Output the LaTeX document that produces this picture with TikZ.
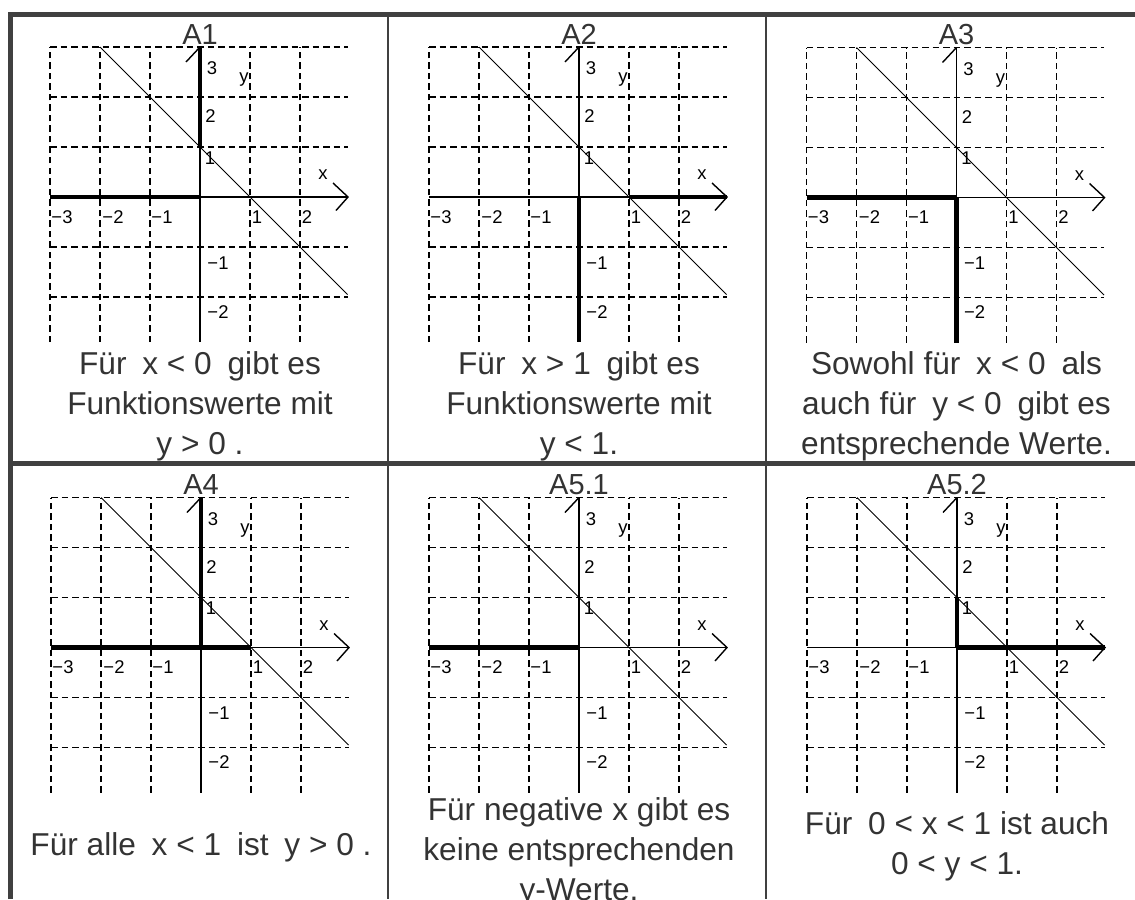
\documentclass[tikz,border=0pt]{standalone}
\usepackage{fontspec}
\setmainfont{Liberation Sans}
\usetikzlibrary{calc}

\definecolor{framegray}{HTML}{404040}
\definecolor{textgray}{HTML}{333333}

\tikzset{
    gridline/.style={line width=0.75pt,dash pattern=on 0.13cm off 0.08cm},
    axisline/.style={line width=0.8pt},
    graphline/.style={line width=0.55pt},
    marked/.style={line width=2.8pt},
    ticklabel/.style={inner sep=0pt,font=\fontsize{10.5}{12}\selectfont},
    paneltitle/.style={inner sep=0pt,text=textgray,font=\fontsize{16.5}{19}\selectfont},
    caption/.style={inner sep=0pt,align=center,text=textgray,font=\fontsize{18}{22.7}\selectfont},
    outerframe/.style={line width=2.8pt,draw=framegray},
    innerframe/.style={line width=1.1pt,draw=framegray}
}

\newcommand{\gap}{\hspace{0.5em}}

% #1 name, #2 origin, #3 title, #4 marked parts, #5 caption y, #6 caption
\newcommand{\koordsystem}[6]{%
    \begin{scope}[shift={#2}]
        % grid
        \foreach \gx in {-3,-2,-1,1,2}
            \draw[gridline] (\gx,-2.9) -- (\gx,3);
        \foreach \gy in {-2,-1,1,2,3}
            \draw[gridline] (-3,\gy) -- (2.95,\gy);

        % axes
        \coordinate (#1-o) at (0,0);
        \coordinate (#1-xl) at (-3,0);
        \coordinate (#1-xr) at (2.96,0);
        \coordinate (#1-yb) at (0,-2.9);
        \coordinate (#1-yt) at (0,3);
        \draw[axisline] (#1-xl) -- (#1-xr);
        \draw[axisline] (#1-yb) -- (#1-yt);
        \draw[axisline] (#1-xr) ++(-0.3,0.28) -- (#1-xr) -- ++(-0.24,-0.27);
        \draw[axisline] (#1-yt) ++(-0.28,-0.3) -- (#1-yt);

        % y = 1 - x
        \coordinate (#1-gs) at (-2,3);
        \coordinate (#1-ge) at (2.95,-1.95);
        \draw[graphline] (#1-gs) -- (#1-ge);

        % marked parts of the axes
        #4

        % axis labels
        \node (#1-x) at (2.46,0.44) [ticklabel] {x};
        \node (#1-y) at (0.88,2.34) [ticklabel] {y};
        \node (#1-y3) at (0.24,2.57) [ticklabel] {3};
        \node (#1-y2) at (0.21,1.61) [ticklabel] {2};
        \node (#1-y1) at (0.2,0.78) [ticklabel] {1};
        \node (#1-ym1) at (0.36,-1.32) [ticklabel] {−1};
        \node (#1-ym2) at (0.36,-2.3) [ticklabel] {−2};
        \node (#1-xm3) at (-2.76,-0.4) [ticklabel] {−3};
        \node (#1-xm2) at (-1.74,-0.4) [ticklabel] {−2};
        \node (#1-xm1) at (-0.76,-0.4) [ticklabel] {−1};
        \node (#1-x1) at (1.14,-0.4) [ticklabel] {1};
        \node (#1-x2) at (2.14,-0.4) [ticklabel] {2};

        % title and caption
        \node (#1-title) at (0,3.25) [paneltitle] {#3};
        \node (#1-caption) at (0,#5) [caption] {#6};
    \end{scope}}

\begin{document}
\begin{tikzpicture}
    \useasboundingbox (0,0) rectangle (22.7,-17.98);

    % 1. Table frame
    \coordinate (tl) at (0.216,-0.284);
    \coordinate (tr) at (22.7,-0.284);
    \coordinate (bl) at (0.216,-17.98);
    \coordinate (ml) at (0.216,-9.27);
    \coordinate (mr) at (22.7,-9.27);
    \coordinate (c1t) at (7.76,-0.284);
    \coordinate (c1b) at (7.76,-17.98);
    \coordinate (c2t) at (15.32,-0.284);
    \coordinate (c2b) at (15.32,-17.98);
    \draw[innerframe] (c1t) -- (c1b);
    \draw[innerframe] (c2t) -- (c2b);
    \draw[outerframe] (bl) -- (tl) -- (tr);
    \draw[outerframe,line width=2.4pt] (ml) -- (mr);

    % 2. Upper row
    \koordsystem{a1}{(4.0,-3.94)}{A1}
        {\draw[marked] (-3,0) -- (0,0);
         \draw[marked] (0,1) -- (0,3);}
        {-4.18}
        {Für\gap x < 0\gap gibt es\\Funktionswerte mit\\y > 0 .}
    \koordsystem{a2}{(11.58,-3.94)}{A2}
        {\draw[marked] (1,0) -- (2.96,0);
         \draw[marked] (0,0) -- (0,-2.9);}
        {-4.18}
        {Für\gap x > 1\gap gibt es\\Funktionswerte mit\\y < 1.}
    \koordsystem{a3}{(19.13,-3.95)}{A3}
        {\draw[marked] (-3,0) -- (0,0);
         \draw[marked] (0,0) -- (0,-2.9);}
        {-4.17}
        {Sowohl für\gap x < 0\gap als\\auch für\gap y < 0\gap gibt es\\entsprechende Werte.}

    % 3. Lower row
    \koordsystem{a4}{(4.02,-12.95)}{A4}
        {\draw[marked] (-3,0) -- (1,0);
         \draw[marked] (0,0) -- (0,3);}
        {-4.0}
        {Für alle\gap x < 1\gap ist\gap y > 0 .}
    \koordsystem{a51}{(11.58,-12.95)}{A5.1}
        {\draw[marked] (-3,0) -- (0,0);}
        {-4.1}
        {Für negative x gibt es\\keine entsprechenden\\y-Werte.}
    \koordsystem{a52}{(19.14,-12.95)}{A5.2}
        {\draw[marked] (0,0) -- (2.96,0);
         \draw[marked] (0,0) -- (0,1);}
        {-3.97}
        {Für\gap 0 < x < 1 ist auch\\0 < y < 1.}
\end{tikzpicture}
\end{document}
